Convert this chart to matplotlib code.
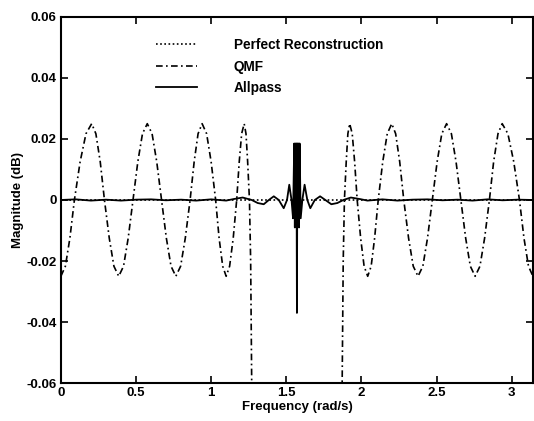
import matplotlib
matplotlib.use("Agg")
import matplotlib.pyplot as plt

plt.rcParams["font.family"] = ["Liberation Sans", "DejaVu Sans"]
plt.rcParams["font.weight"] = "bold"

# values
perfect_x = [0.0, 3.1416]
perfect_y = [0.0, 0.0]

qmf_x = [
    0.000, 0.030, 0.060, 0.090, 0.128, 0.167, 0.205, 0.233, 0.262, 0.290,
    0.322, 0.353, 0.385, 0.417, 0.448, 0.480, 0.512, 0.543, 0.575, 0.607,
    0.638, 0.670, 0.702, 0.733, 0.765, 0.797, 0.828, 0.860, 0.887, 0.913,
    0.940, 0.970, 1.000, 1.030, 1.053, 1.077, 1.100, 1.123, 1.147, 1.170,
    1.187, 1.203, 1.220, 1.232, 1.243, 1.255, 1.263, 1.270, 1.275,
    None,
    1.866, 1.872, 1.879, 1.887, 1.899, 1.910, 1.922, 1.939, 1.955, 1.972,
    1.995, 2.018, 2.042, 2.065, 2.088, 2.112, 2.142, 2.172, 2.202, 2.228,
    2.255, 2.282, 2.314, 2.345, 2.377, 2.409, 2.440, 2.472, 2.504, 2.535,
    2.567, 2.599, 2.630, 2.662, 2.694, 2.725, 2.757, 2.789, 2.820, 2.852,
    2.880, 2.909, 2.937, 2.975, 3.014, 3.052, 3.082, 3.112, 3.1416,
]
qmf_y = [
    -0.0250, -0.0217, -0.0125, 0.0000, 0.0125, 0.0217, 0.0250, 0.0217, 0.0125, 0.0000,
    -0.0125, -0.0217, -0.0250, -0.0217, -0.0125, 0.0000, 0.0125, 0.0217, 0.0250, 0.0217,
    0.0125, 0.0000, -0.0125, -0.0217, -0.0250, -0.0217, -0.0125, 0.0000, 0.0125, 0.0217,
    0.0250, 0.0217, 0.0125, 0.0000, -0.0125, -0.0217, -0.0250, -0.0217, -0.0125, 0.0000,
    0.0125, 0.0217, 0.0250, 0.0217, 0.0125, 0.0000, -0.0200, -0.0600, -0.0800,
    None,
    -0.0800, -0.0600, -0.0200, 0.0000, 0.0125, 0.0217, 0.0250, 0.0217, 0.0125, 0.0000,
    -0.0125, -0.0217, -0.0250, -0.0217, -0.0125, 0.0000, 0.0125, 0.0217, 0.0250, 0.0217,
    0.0125, 0.0000, -0.0125, -0.0217, -0.0250, -0.0217, -0.0125, 0.0000, 0.0125, 0.0217,
    0.0250, 0.0217, 0.0125, 0.0000, -0.0125, -0.0217, -0.0250, -0.0217, -0.0125, 0.0000,
    0.0125, 0.0217, 0.0250, 0.0217, 0.0125, 0.0000, -0.0125, -0.0217, -0.0250,
]

allpass_x = [
    0.00, 0.10, 0.20, 0.30, 0.40, 0.50, 0.60, 0.70, 0.80, 0.90, 1.00, 1.10,
    1.15, 1.21, 1.27, 1.31, 1.35, 1.384, 1.417, 1.45, 1.483, 1.505, 1.52, 1.535,
    1.545, 1.553, 1.557, 1.561, 1.565, 1.568, 1.571, 1.574, 1.577, 1.581,
    1.585, 1.589, 1.596, 1.607, 1.622, 1.64, 1.66, 1.69, 1.725, 1.76, 1.80,
    1.84, 1.88, 1.93, 1.99, 2.04, 2.14, 2.24, 2.34, 2.44, 2.54, 2.64, 2.74,
    2.84, 2.94, 3.04, 3.1416,
]
allpass_y = [
    0.0000, 0.0002, -0.0002, 0.0001, -0.0002, 0.0001, 0.0002, -0.0001, 0.0001, -0.0002, 0.0002, -0.0002,
    0.0003, 0.0008, 0.0000, -0.0010, -0.0014, 0.0000, 0.0012, 0.0000, -0.0027, 0.0000, 0.0050, 0.0000,
    -0.0060, 0.0185, -0.0090, 0.0185, -0.0070, 0.0185, -0.0370, 0.0185, -0.0070, 0.0185,
    -0.0090, 0.0185, -0.0060, 0.0000, 0.0050, 0.0000, -0.0027, 0.0000, 0.0012, 0.0000, -0.0014,
    -0.0010, 0.0000, 0.0008, 0.0003, -0.0002, 0.0002, -0.0002, 0.0001, 0.0002, -0.0001, 0.0001, -0.0002,
    0.0002, -0.0001, 0.0001, 0.0000,
]

x_ticks = [0, 0.5, 1, 1.5, 2, 2.5, 3]
x_labels = ["0", "0.5", "1", "1.5", "2", "2.5", "3"]
y_ticks = [-0.06, -0.04, -0.02, 0, 0.02, 0.04, 0.06]
y_labels = ["-0.06", "-0.04", "-0.02", "0", "0.02", "0.04", "0.06"]

fig = plt.figure(figsize=(5.34, 4.21), dpi=100)
ax = fig.add_axes([0.114, 0.090, 0.884, 0.870])

ax.plot(perfect_x, perfect_y, color="black", linestyle=(0, (1, 1.5)), linewidth=1.2,
        label="Perfect Reconstruction")
ax.plot(qmf_x, qmf_y, color="black", linestyle=(0, (4, 2, 1, 2)), linewidth=1.2, label="QMF")
ax.plot(allpass_x, allpass_y, color="black", linestyle="-", linewidth=1.3, label="Allpass")

ax.set_xlim(0, 3.1416)
ax.set_ylim(-0.06, 0.06)
ax.set_xticks(x_ticks)
ax.set_xticklabels(x_labels)
ax.set_yticks(y_ticks)
ax.set_yticklabels(y_labels)
ax.tick_params(direction="in", top=True, right=True, labelsize=9.5, length=5, width=1.2, pad=3)
for s in ax.spines.values():
    s.set_linewidth(1.5)

ax.set_xlabel("Frequency (rad/s)", fontsize=9.5, fontweight="bold", labelpad=1)
ax.set_ylabel("Magnitude (dB)", fontsize=9.5, fontweight="bold", labelpad=2)

ax.legend(loc="upper left", bbox_to_anchor=(0.176, 0.975), frameon=False,
          handlelength=3.0, handletextpad=2.7, labelspacing=0.55,
          prop={"size": 9.8, "weight": "bold"})

fig.savefig("out.png", dpi=100)
